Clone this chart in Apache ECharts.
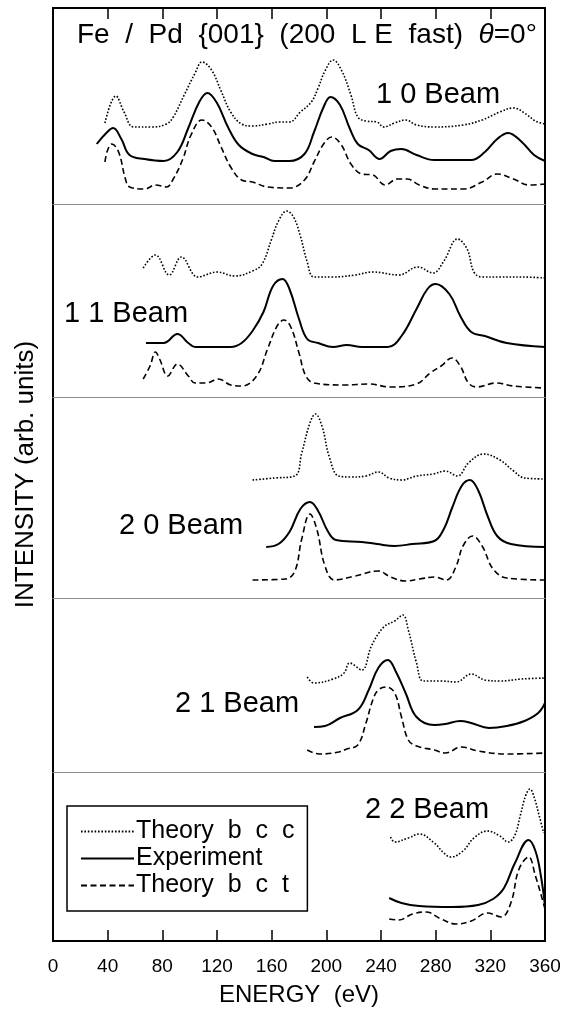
<!DOCTYPE html>
<html>
<head>
<meta charset="utf-8">
<title>Fe / Pd {001} LEED intensity</title>
<script src="https://cdn.jsdelivr.net/npm/echarts@6/dist/echarts.min.js"></script>
<style>
  html, body { margin: 0; padding: 0; background: #fff; }
  #chart { width: 567px; height: 1012px; }
</style>
</head>
<body>
<div id="chart"></div>
<script>
// energy axis (eV)
const energyMin = 0;
const energyMax = 360;
const energyStep = 40;

// beams, top to bottom
const beamNames = ["1 0 Beam", "1 1 Beam", "2 0 Beam", "2 1 Beam", "2 2 Beam"];

// curves: [energy (eV), intensity (arb. units, above the panel baseline)]
const bcc10 = [[38,81],[46,108],[52,92],[59,77],[72,77],[83,80],[88,87],[96,109],[104,131],[109,142],[116,134],[123,113],[130,92],[138,80],[146,78],[157,80],[166,82],[173,82],[181,92],[189,102],[194,116],[199,133],[205,144],[211,134],[218,109],[223,87],[229,83],[237,82],[242,77],[250,81],[258,84],[266,79],[279,77],[300,79],[314,84],[327,92],[337,96],[345,91],[353,83],[360,80]];
const exp10 = [[32,60],[39,71],[44,76],[50,65],[56,49],[67,45],[81,43],[91,52],[99,76],[107,102],[113,111],[120,101],[128,77],[136,59],[146,50],[154,47],[162,43],[173,43],[184,50],[191,72],[198,97],[203,107],[210,99],[217,76],[223,60],[231,54],[239,45],[247,53],[255,55],[266,49],[279,44],[306,44],[316,52],[325,65],[333,71],[343,62],[352,49],[360,43]];
const bct10 = [[38,42],[40,54],[43,60],[48,52],[53,25],[56,17],[67,15],[75,19],[83,17],[88,25],[95,45],[101,69],[109,84],[116,77],[123,57],[130,37],[138,24],[146,22],[157,17],[173,16],[184,24],[191,42],[198,60],[204,67],[211,59],[218,40],[226,30],[234,29],[243,19],[252,25],[259,25],[268,19],[279,15],[300,15],[314,22],[325,30],[337,25],[348,19],[360,20]];

const bcc11 = [[66,129],[75,142],[85,122],[94,140],[106,120],[120,125],[133,121],[146,126],[153,133],[160,158],[165,176],[171,186],[176,180],[181,161],[186,135],[191,120],[205,120],[221,122],[234,125],[253,122],[267,130],[278,124],[286,136],[296,158],[303,148],[308,125],[314,120],[327,120],[343,120],[360,119]];
const exp11 = [[68,54],[81,54],[91,63],[99,54],[104,50],[130,50],[138,54],[146,66],[154,85],[161,111],[168,118],[173,108],[180,78],[186,58],[194,54],[205,50],[215,52],[226,50],[245,50],[255,61],[266,88],[274,108],[280,113],[290,103],[298,81],[306,65],[316,61],[332,54],[360,50]];
const bct11 = [[66,18],[71,31],[75,45],[78,38],[84,21],[91,33],[99,21],[104,14],[112,14],[121,18],[130,12],[138,11],[149,21],[157,48],[164,71],[169,77],[174,70],[180,44],[185,21],[191,14],[213,12],[231,13],[247,10],[266,13],[276,24],[284,31],[292,39],[298,31],[304,14],[310,10],[324,14],[337,11],[360,9]];

const bcc20 = [[146,118],[162,120],[177,122],[182,145],[188,175],[192,184],[197,171],[202,142],[209,122],[218,121],[229,122],[238,126],[246,120],[255,118],[266,122],[278,124],[287,127],[296,122],[304,135],[315,144],[327,138],[337,127],[345,120],[360,119]];
const exp20 = [[156,51],[165,54],[173,66],[181,89],[188,96],[194,87],[201,67],[207,58],[226,56],[237,54],[250,52],[263,54],[279,57],[286,69],[292,90],[299,112],[305,118],[311,108],[318,82],[325,62],[335,54],[360,51]];
const bct20 = [[146,18],[170,19],[177,27],[182,59],[188,84],[193,69],[199,32],[206,18],[221,22],[238,27],[247,21],[258,17],[268,19],[279,21],[288,18],[295,32],[300,52],[307,62],[314,52],[322,29],[332,20],[360,18]];

const bcc21 = [[186,95],[191,89],[205,93],[213,99],[217,109],[226,102],[233,126],[242,145],[250,151],[256,157],[260,142],[266,109],[271,91],[284,91],[295,90],[306,98],[316,92],[327,91],[343,93],[360,94]];
const exp21 = [[191,45],[199,46],[210,54],[223,62],[231,82],[238,104],[245,112],[251,100],[258,79],[266,55],[279,47],[287,48],[298,51],[306,49],[319,44],[332,46],[345,51],[355,59],[360,69]];
const bct21 = [[186,22],[195,18],[209,20],[215,23],[223,27],[229,49],[234,72],[238,82],[244,85],[250,79],[255,55],[260,32],[266,26],[279,22],[287,19],[299,25],[311,21],[332,18],[360,19]];

const bcc22 = [[247,104],[250,99],[260,103],[268,107],[279,98],[286,88],[291,84],[300,90],[308,103],[318,110],[327,105],[333,99],[338,106],[342,126],[346,146],[349,152],[352,144],[356,124],[359,108]];
const exp22 = [[246,43],[255,38],[268,35],[292,34],[311,36],[322,42],[330,53],[338,78],[348,101],[353,90],[357,65],[360,35]];
const bct22 = [[246,22],[253,21],[263,27],[273,29],[284,22],[295,17],[306,20],[318,28],[328,24],[335,38],[341,72],[348,84],[353,65],[358,42],[360,32]];

const panels = [
  [bcc10, exp10, bct10],
  [bcc11, exp11, bct11],
  [bcc20, exp20, bct20],
  [bcc21, exp21, bct21],
  [bcc22, exp22, bct22],
];

// layout of the stacked panels (px)
const panelTop = [8, 204, 397, 598, 772];
const panelHeight = [196, 193, 201, 174, 169];
const labelPos = [[376, 95], [64, 314], [119, 526], [175, 704], [365, 810]];

const FONT = "'Liberation Sans', Arial, sans-serif";

// one style per curve kind: dotted bcc, solid experiment, dashed bct
const kinds = [
  { name: "Theory  b  c  c", lineStyle: { color: "#000", width: 1.6, type: [1.6, 1.8] } },
  { name: "Experiment", lineStyle: { color: "#000", width: 2 } },
  { name: "Theory  b  c  t", lineStyle: { color: "#000", width: 1.6, type: [6, 3.5] } },
];

const chart = echarts.init(document.getElementById("chart"));

const grids = [{ left: 53, right: 22, top: 8, bottom: 71 }];
const xAxes = [
  {
    gridIndex: 0,
    type: "value",
    min: energyMin,
    max: energyMax,
    interval: energyStep,
    position: "bottom",
    axisLine: { onZero: false, lineStyle: { color: "#000", width: 2 } },
    axisTick: { inside: true, length: 11, lineStyle: { color: "#000", width: 1.5 } },
    axisLabel: { color: "#000", fontSize: 19, fontFamily: FONT, margin: 16 },
    splitLine: { show: false },
    name: "ENERGY  (eV)",
    nameLocation: "middle",
    nameGap: 42,
    nameTextStyle: { color: "#000", fontSize: 24, fontFamily: FONT },
  },
  {
    gridIndex: 0,
    type: "value",
    min: energyMin,
    max: energyMax,
    interval: energyStep,
    position: "top",
    axisLine: { onZero: false, lineStyle: { color: "#000", width: 2 } },
    axisTick: { inside: true, length: 11, lineStyle: { color: "#000", width: 1.5 } },
    axisLabel: { show: false },
    splitLine: { show: false },
  },
];
const yAxes = [
  {
    gridIndex: 0,
    type: "value",
    min: 0,
    max: 1,
    position: "left",
    axisLine: { show: true, onZero: false, lineStyle: { color: "#000", width: 2 } },
    axisTick: { show: false },
    axisLabel: { show: false },
    splitLine: { show: false },
    name: "INTENSITY (arb. units)",
    nameLocation: "middle",
    nameGap: 14,
    nameTextStyle: { color: "#000", fontSize: 26, fontFamily: FONT },
  },
  {
    gridIndex: 0,
    type: "value",
    min: 0,
    max: 1,
    position: "right",
    axisLine: { show: true, onZero: false, lineStyle: { color: "#000", width: 2 } },
    axisTick: { show: false },
    axisLabel: { show: false },
    splitLine: { show: false },
  },
];

const series = [];
panels.forEach((curves, i) => {
  const g = i + 1;
  grids.push({ left: 53, right: 22, top: panelTop[i], height: panelHeight[i] });
  // bottom axis line of each panel is the grey separator
  xAxes.push({
    gridIndex: g,
    type: "value",
    min: energyMin,
    max: energyMax,
    show: i < panels.length - 1,
    axisLine: { onZero: false, lineStyle: { color: "#8c8c8c", width: 1.2 } },
    axisTick: { show: false },
    axisLabel: { show: false },
    splitLine: { show: false },
  });
  yAxes.push({ gridIndex: g, type: "value", min: 0, max: panelHeight[i], show: false });
  curves.forEach((data, k) => {
    series.push({
      name: kinds[k].name,
      type: "line",
      xAxisIndex: g + 1,
      yAxisIndex: g + 1,
      data: data,
      smooth: 0.4,
      symbol: "none",
      lineStyle: kinds[k].lineStyle,
      itemStyle: { color: "#000" },
      silent: true,
    });
  });
});

const option = {
  animation: false,
  backgroundColor: "#fff",
  title: {
    text: "Fe  /  Pd  {001}  (200  L E  fast)  {i|θ}=0°",
    left: 77,
    top: 21,
    padding: 0,
    textStyle: {
      color: "#000",
      fontSize: 28,
      fontWeight: "normal",
      fontFamily: FONT,
      rich: { i: { fontStyle: "italic", fontSize: 28, fontFamily: FONT, color: "#000" } },
    },
  },
  legend: {
    data: kinds.map((k) => k.name),
    orient: "vertical",
    left: 67,
    top: 806,
    itemWidth: 53,
    itemHeight: 12,
    itemGap: 2,
    padding: [13, 13, 13, 13],
    borderColor: "#000",
    borderWidth: 1.5,
    selectedMode: false,
    itemStyle: { opacity: 0 },
    textStyle: { color: "#000", fontSize: 25, fontFamily: FONT, padding: [0, 0, 0, -3] },
  },
  grid: grids,
  xAxis: xAxes,
  yAxis: yAxes,
  series: series,
  graphic: beamNames.map((t, i) => ({
    type: "text",
    x: labelPos[i][0],
    y: labelPos[i][1],
    silent: true,
    style: {
      text: t,
      font: "29px " + FONT,
      fill: "#000",
      verticalAlign: "middle",
    },
  })),
};

chart.setOption(option);
</script>
</body>
</html>
